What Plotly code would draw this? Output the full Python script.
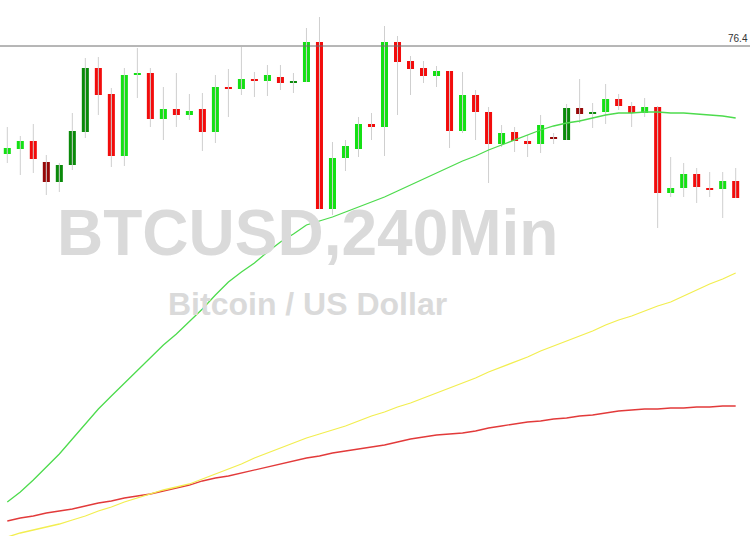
import plotly.graph_objects as go

# ---- data (price units; chart has no visible axis) ----
OPEN  = [382, 387, 395, 374, 354, 371, 404, 468, 442, 380,
         461, 463, 417, 427, 421, 427, 404, 449, 447, 457,
         455, 459, 453, 454, 494, 327, 378, 387, 412, 409,
         494, 475, 468, 460, 465, 405, 441, 424, 392, 404,
         395, 392, 399, 396, 428, 422, 424, 437, 430, 423,
         429, 343, 348, 362, 348, 347, 355]
HIGH  = [409, 400, 412, 381, 373, 423, 478, 479, 448, 468,
         488, 468, 449, 463, 442, 443, 461, 467, 489, 464,
         471, 471, 463, 508, 519, 394, 396, 419, 423, 510,
         500, 480, 475, 470, 465, 464, 446, 429, 411, 409,
         401, 421, 403, 432, 457, 433, 452, 442, 434, 438,
         430, 379, 373, 368, 364, 364, 368]
LOW   = [373, 361, 363, 341, 344, 366, 398, 421, 369, 370,
         438, 409, 396, 409, 416, 385, 393, 419, 441, 439,
         440, 446, 443, 454, 327, 321, 365, 379, 396, 380,
         421, 441, 453, 449, 388, 403, 396, 353, 389, 384,
         379, 383, 392, 396, 413, 408, 412, 426, 409, 419,
         308, 339, 339, 333, 339, 318, 338]
CLOSE = [388, 395, 377, 354, 371, 405, 468, 441, 380, 461,
         463, 417, 427, 421, 425, 404, 449, 447, 457, 455,
         461, 453, 455, 494, 327, 378, 390, 412, 409, 494,
         474, 467, 460, 465, 405, 441, 424, 392, 403, 395,
         392, 411, 397, 428, 422, 424, 437, 430, 423, 429,
         343, 348, 362, 349, 346, 355, 338]
# candles drawn in the darker shade
DARK_CANDLES = [3, 4, 5, 6, 22, 42, 43, 44, 45]

MA_FAST = [34, 44, 56, 69, 82, 97, 112, 127, 140, 153,
           165, 178, 191, 202, 214, 227, 241, 254, 264, 273,
           284, 294, 302, 311, 315, 319, 324, 329, 334, 339,
           345, 351, 357, 363, 369, 375, 380, 386, 391, 396,
           401, 406, 410, 413, 415, 418, 421, 423, 423, 424,
           424, 423, 423, 422, 421, 420, 418]
MA_MID  = [-1, 3, 6, 9, 12, 16, 20, 25, 29, 34,
           38, 42, 46, 49, 52, 57, 62, 67, 72, 78,
           83, 88, 93, 98, 102, 106, 110, 115, 120, 124,
           129, 133, 138, 143, 148, 153, 158, 164, 169, 174,
           179, 185, 190, 195, 200, 205, 211, 216, 220, 225,
           230, 234, 240, 246, 252, 257, 263]
MA_SLOW = [15, 18, 20, 23, 25, 27, 30, 33, 35, 38,
           40, 42, 45, 48, 51, 55, 58, 60, 63, 66,
           69, 72, 75, 78, 80, 83, 85, 87, 89, 91,
           94, 97, 99, 101, 102, 103, 105, 108, 110, 112,
           114, 115, 117, 118, 120, 121, 123, 125, 126, 127,
           127, 128, 128, 129, 129, 130, 130]

FIB_LEVEL = 490
FIB_LABEL = "76.4"
TITLE = "BTCUSD,240Min"
SUBTITLE = "Bitcoin / US Dollar"

n = len(OPEN)
idx = list(range(n))

fig = go.Figure()

# wicks
wx, wy = [], []
for i in idx:
    wx += [i, i, None]
    wy += [LOW[i], HIGH[i], None]
fig.add_trace(go.Scatter(x=wx, y=wy, mode="lines",
                         line=dict(color="#cfcfcf", width=1),
                         hoverinfo="skip", showlegend=False))

normal = [i for i in idx if i not in DARK_CANDLES]
for sel, up, down in [(normal, "#14e014", "#f20c0c"),
                      (DARK_CANDLES, "#0a8a0a", "#960808")]:
    fig.add_trace(go.Candlestick(
        x=sel,
        open=[OPEN[i] for i in sel], high=[HIGH[i] for i in sel],
        low=[LOW[i] for i in sel], close=[CLOSE[i] for i in sel],
        increasing=dict(fillcolor=up, line=dict(color=up, width=0)),
        decreasing=dict(fillcolor=down, line=dict(color=down, width=0)),
        showlegend=False))

for vals, col in [(MA_SLOW, "#e23a3a"), (MA_MID, "#f2ee50"), (MA_FAST, "#4ddb4d")]:
    fig.add_trace(go.Scatter(x=idx, y=vals, mode="lines",
                             line=dict(color=col, width=1.3),
                             hoverinfo="skip", showlegend=False))

fig.add_hline(y=FIB_LEVEL, line=dict(color="#6e6e6e", width=1))

fig.add_annotation(text=FIB_LABEL, xref="paper", yref="y", x=1.0, y=FIB_LEVEL,
                   xanchor="right", yanchor="bottom", yshift=0, showarrow=False,
                   font=dict(family="Liberation Sans, Arial, sans-serif", size=10, color="#333333"))

fig.add_annotation(text=TITLE, xref="paper", yref="paper", x=0.41, y=0.566,
                   xanchor="center", yanchor="middle", showarrow=False,
                   font=dict(family="Liberation Sans, Arial, sans-serif",
                             size=64, color="#dadada", weight="bold"))
fig.add_annotation(text=SUBTITLE, xref="paper", yref="paper", x=0.41, y=0.433,
                   xanchor="center", yanchor="middle", showarrow=False,
                   font=dict(family="Liberation Sans, Arial, sans-serif",
                             size=32, color="#dadada", weight="bold"))

fig.update_layout(
    width=750, height=536,
    margin=dict(l=0, r=0, t=0, b=0),
    paper_bgcolor="white", plot_bgcolor="white",
    boxgap=0.46, boxgroupgap=0,
    xaxis=dict(range=[-0.561, 57.10], visible=False, rangeslider=dict(visible=False),
               showgrid=False, zeroline=False),
    yaxis=dict(range=[0, 536], visible=False, showgrid=False, zeroline=False),
    hovermode=False,
)

fig.write_html("out.html",
               config={"displayModeBar": False, "staticPlot": True},
               post_script="document.body.style.margin='0';document.body.style.overflow='hidden';")
